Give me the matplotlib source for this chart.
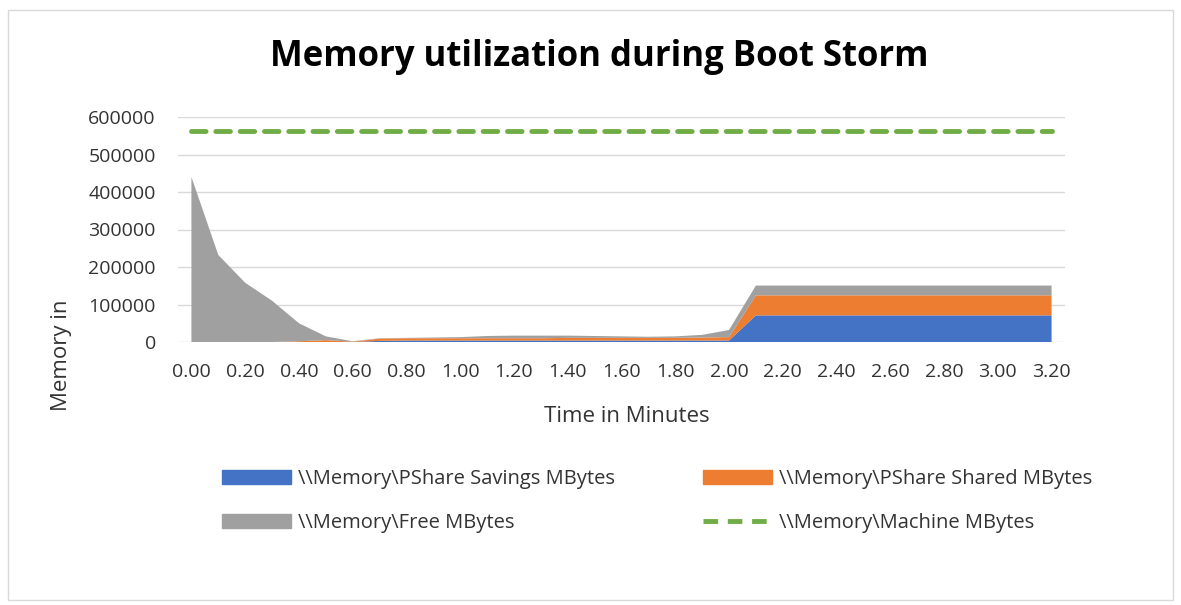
import numpy as np
import matplotlib
matplotlib.use("Agg")
import matplotlib.pyplot as plt
from matplotlib.patches import Patch, Rectangle
from matplotlib.lines import Line2D

plt.rcParams['font.family'] = ['Open Sans', 'DejaVu Sans']

time_min = [round(0.1 * i, 1) for i in range(33)]
pshare_savings = [0, 0, 0, 0, 0, 0, 0, 3000, 4000, 4000, 4000, 4000, 4000, 4000,
                  4000, 4000, 4000, 4000, 4000, 4000, 4000] + [71000] * 12
pshare_shared = [0, 0, 0, 0, 2000, 5000, 1000, 6000, 6000, 6000, 6000, 6000, 6000, 6000,
                 7000, 7000, 7000, 7000, 7000, 8000, 9000] + [53500] * 12
free_mb = [440000, 232000, 158000, 110000, 48000, 10000, 1000, 1000, 1000, 2000, 3000,
           6000, 7000, 7000, 6000, 5000, 4000, 3000, 4000, 7000, 19000] + [26000] * 12
machine_mb = [563000] * 33
tick_labels = [f"{0.2*i:.2f}" for i in range(17)]

c_blue = '#4472C4'
c_orange = '#ED7D31'
c_gray = '#A0A0A0'
c_green = '#70AD47'
c_text = '#333333'

fig = plt.figure(figsize=(11.81, 6.05), dpi=100)
fig.patches.append(Rectangle((8/1181, 1-600/605), 1165/1181, 590/605, transform=fig.transFigure,
                             fill=False, edgecolor='#D9D9D9', linewidth=1))
ax = fig.add_axes([178/1181, 1-342/605, (1065-178)/1181, (342-117)/605])

ax.stackplot(time_min, pshare_savings, pshare_shared, free_mb,
             colors=[c_blue, c_orange, c_gray], linewidth=0)
ax.plot(time_min, machine_mb, color=c_green, linestyle=(0, (3, 2)), linewidth=3.5,
        dash_capstyle='round')

ax.set_xlim(-0.05, 3.25)
ax.set_ylim(0, 600000)
ax.set_yticks(np.arange(0, 600001, 100000))
ax.set_yticklabels([str(v) for v in range(0, 600001, 100000)], fontsize=14, color=c_text)
ax.set_xticks([0.2 * i for i in range(17)])
ax.set_xticklabels(tick_labels, fontsize=14, color=c_text)
ax.tick_params(axis='y', length=0, pad=16)
ax.tick_params(axis='x', length=0, pad=15)
ax.grid(axis='y', color='#D9D9D9', linewidth=1)
ax.set_axisbelow(True)
for s in ax.spines.values():
    s.set_visible(False)

fig.text(599/1181, 1-57/605, 'Memory utilization during Boot Storm', ha='center', va='center',
         fontsize=25, fontweight='bold', color='#000000')
fig.text(62/1181, 1-355/605, 'Memory in', rotation=90, ha='center', va='center',
         fontsize=16, color=c_text)
fig.text(627/1181, 1-416/605, 'Time in Minutes', ha='center', va='center',
         fontsize=16, color=c_text)

handles = [Patch(color=c_blue), Patch(color=c_gray), Patch(color=c_orange),
           Line2D([0], [0], color=c_green, linestyle=(0, (3, 2)), linewidth=3.5)]
labels = [r'\\Memory\PShare Savings MBytes', r'\\Memory\Free MBytes',
          r'\\Memory\PShare Shared MBytes', r'\\Memory\Machine MBytes']
fig.legend(handles, labels, ncol=2, loc='center left', bbox_to_anchor=(204/1181, 1-501/605),
           frameon=False, fontsize=14.5, handlelength=3.4, handleheight=0.7,
           handletextpad=0.35, columnspacing=4.4, labelspacing=1.2, labelcolor=c_text)

fig.savefig('out.png', dpi=100)
